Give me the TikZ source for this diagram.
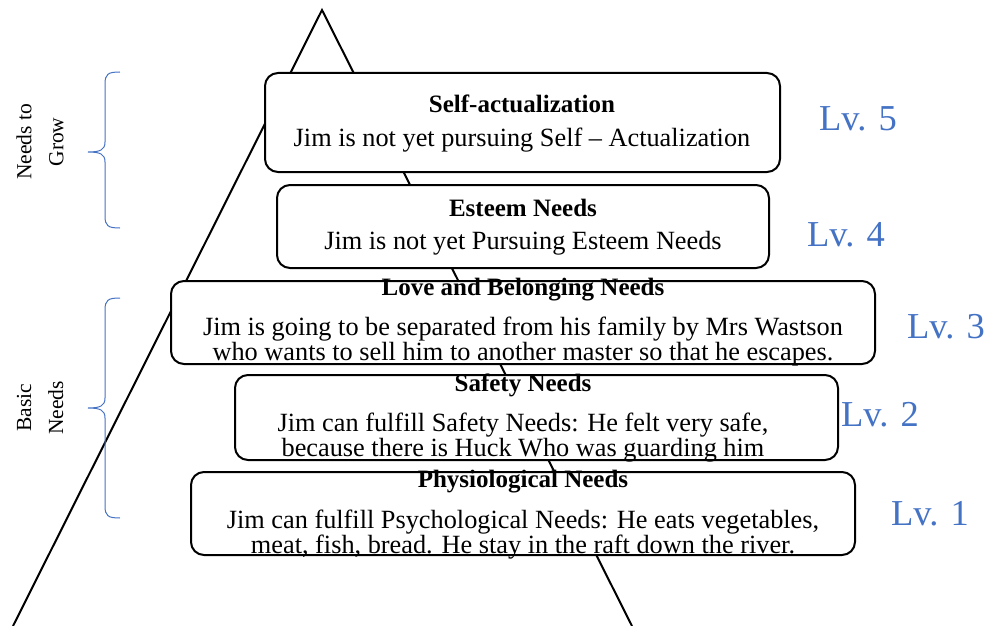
\documentclass[tikz,border=0pt]{standalone}
\usepackage{fontspec}
\setmainfont{Liberation Serif}
\definecolor{lvblue}{RGB}{68,114,196}
\tikzset{
  x=1pt,y=-1pt,
  needbox/.style={draw=black,line width=2pt,rounded corners=13pt,fill=white,inner sep=0pt},
  ttl/.style={font=\fontsize{25}{28}\selectfont\bfseries,inner sep=0pt},
  bdy/.style={font=\fontsize{26.3}{28.5}\selectfont,inner sep=0pt},
  bln/.style={font=\fontsize{26.3}{28.5}\selectfont,inner sep=0pt,anchor=base},
  lv/.style={font=\fontsize{36.5}{40}\selectfont,text=lvblue,inner sep=0pt},
  side/.style={font=\fontsize{21.5}{32}\selectfont,inner sep=0pt,align=center,rotate=90},
  brc/.style={draw=lvblue,line width=1pt}
}
\begin{document}
\begin{tikzpicture}
\useasboundingbox (0,0) rectangle (989,626);
% pyramid
\coordinate (apex) at (322,10);
\coordinate (bl) at (13,626);
\coordinate (br) at (632,626);
\draw[line width=2pt] (bl) -- (apex) -- (br);
% boxes
\path[needbox] (265,73) rectangle (780,172);
\node[ttl] (t5) at (522,104) {Self-actualization};
\node[bdy] (b5) at (522,140) {Jim is not yet pursuing Self -- Actualization};
\path[needbox] (277,185) rectangle (769,268);
\node[ttl] (t4) at (523,208) {Esteem Needs};
\node[bdy] (b4) at (523,243) {Jim is not yet Pursuing Esteem Needs};
\path[needbox] (171,281) rectangle (875,364);
\node[ttl] (t3) at (523,290) {Love and Belonging Needs};
\node[bln] (b3a) at (523,335) {Jim is going to be separated from his family by Mrs Wastson};
\node[bln] (b3b) at (523,360) {who wants to sell him to another master so that he escapes.};
\path[needbox] (235,375) rectangle (838,460);
\node[ttl] (t2) at (523,385) {Safety Needs};
\node[bln] (b2a) at (523,431) {Jim can fulfill Safety Needs: He felt very safe,};
\node[bln] (b2b) at (523,456) {because there is Huck Who was guarding him};
\path[needbox] (191,472) rectangle (855,555);
\node[ttl] (t1) at (523,482) {Physiological Needs};
\node[bln] (b1a) at (523,528) {Jim can fulfill Psychological Needs: He eats vegetables,};
\node[bln] (b1b) at (523,553) {meat, fish, bread. He stay in the raft down the river.};
% levels
\node[lv] (l5) at (858,119) {Lv. 5};
\node[lv] (l4) at (846,235) {Lv. 4};
\node[lv] (l3) at (946,327) {Lv. 3};
\node[lv] (l2) at (880,415) {Lv. 2};
\node[lv] (l1) at (930,514) {Lv. 1};
% braces
\draw[brc] (120,72) .. controls (108,72) and (105,74) .. (105,84) -- (105,142)
  .. controls (105,150) and (100,152) .. (88,152) .. controls (100,152) and (105,154) .. (105,162)
  -- (105,216) .. controls (105,226) and (108,228) .. (120,228);
\draw[brc] (120,298) .. controls (108,298) and (105,300) .. (105,310) -- (105,398)
  .. controls (105,406) and (100,408) .. (88,408) .. controls (100,408) and (105,410) .. (105,418)
  -- (105,506) .. controls (105,516) and (108,518) .. (120,518);
\node[side] (grow) at (40,142) {Needs to\\Grow};
\node[side] (basic) at (40,408) {Basic\\Needs};
\end{tikzpicture}
\end{document}
